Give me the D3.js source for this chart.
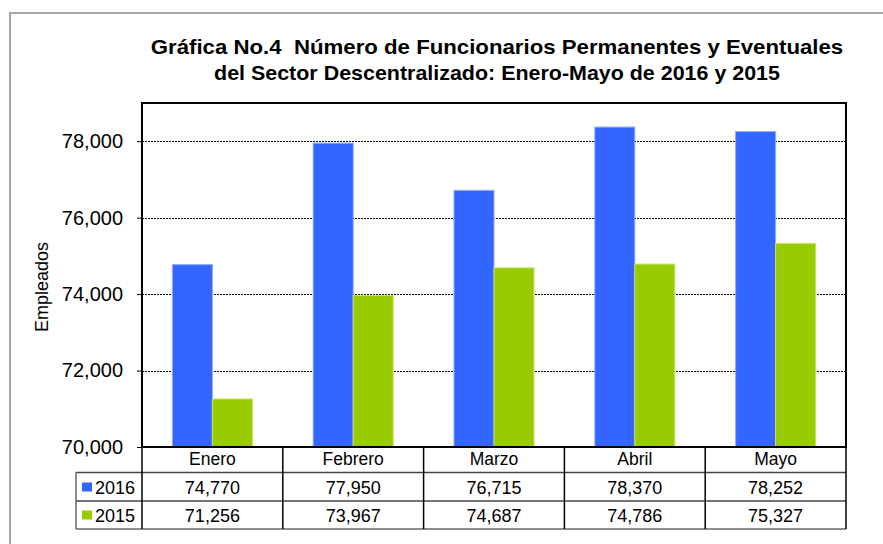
<!DOCTYPE html>
<html><head><meta charset="utf-8">
<script src="https://cdn.jsdelivr.net/npm/d3@7"></script>
<style>body{margin:0;background:#fff}svg{display:block}text{font-family:"Liberation Sans",Arial,sans-serif;fill:#000}</style>
</head><body>
<script>
const categories = ["Enero","Febrero","Marzo","Abril","Mayo"];
const seriesNames = ["2016","2015"];
const values2016 = [74770,77950,76715,78370,78252];
const values2015 = [71256,73967,74687,74786,75327];
const yTicks = [70000,72000,74000,76000,78000];
const colors = ["#3366FF","#99CC00"];
const strokes = ["#8FA8FF","#C6E266"];
const titleLines = ["Gráfica No.4  Número de Funcionarios Permanentes y Eventuales","del Sector Descentralizado: Enero-Mayo de 2016 y 2015"];

const W=883,H=544;
const svg=d3.select("body").append("svg").attr("width",W).attr("height",H);
svg.append("rect").attr("x",10).attr("y",13).attr("width",900).attr("height",600)
  .attr("fill","none").attr("stroke","#a6a6a6").attr("stroke-width",2);

const L=142,R=846,T=103,B=447;
const x=d3.scaleBand().domain(categories).range([L,R]);
const y=d3.scaleLinear().domain([70000,79000]).range([B,T]);
const fmt=d3.format(",");

// title lines (horizontally widened like the reference)
[[54,1.14],[80,1.10]].forEach(([by,sx],i)=>{
  svg.append("text").attr("text-anchor","middle").attr("font-weight","bold").attr("font-size",19.5)
    .attr("transform",`translate(497,${by}) scale(${sx},1)`).style("white-space","pre")
    .text(titleLines[i]);
});

// gridlines
svg.append("g").selectAll("line").data(yTicks.filter(d=>d>70000)).join("line")
  .attr("x1",L).attr("x2",R).attr("y1",d=>Math.round(y(d))+0.5).attr("y2",d=>Math.round(y(d))+0.5)
  .attr("stroke","#000").attr("stroke-width",1).attr("stroke-dasharray","2,1");

// y axis
const yAxis=d3.axisLeft(y).tickValues(yTicks).tickFormat(fmt).tickSize(5).tickPadding(14);
const ga=svg.append("g").attr("transform",`translate(${L},0)`).call(yAxis);
ga.select(".domain").remove();
ga.selectAll(".tick line").attr("stroke","#000");
ga.selectAll(".tick text").attr("font-size",20).attr("font-family","Liberation Sans, Arial, sans-serif").attr("fill","#000");

// y label
svg.append("text").attr("transform","translate(48,287) rotate(-90)").attr("text-anchor","middle")
  .attr("font-size",18).text("Empleados");

// bars
const series=[values2016,values2015];
const bw=40;
series.forEach((vals,si)=>{
  svg.append("g").selectAll("rect").data(vals).join("rect")
    .attr("x",(d,i)=>x(categories[i])+x.bandwidth()/2-bw+si*bw)
    .attr("y",d=>y(d)).attr("width",bw).attr("height",d=>B-y(d))
    .attr("fill",colors[si]).attr("stroke",strokes[si]).attr("stroke-width",1);
});

// plot border
svg.append("rect").attr("x",L).attr("y",T).attr("width",R-L).attr("height",B-T)
  .attr("fill","none").attr("stroke","#000").attr("stroke-width",2);

// data table
const rowY=[447,472.5,501,529];
const tLeft=76;
const tg=svg.append("g");
tg.append("line").attr("x1",tLeft).attr("x2",R).attr("y1",rowY[1]).attr("y2",rowY[1]).attr("stroke","#444").attr("stroke-width",1.3);
tg.append("line").attr("x1",tLeft).attr("x2",R).attr("y1",rowY[2]).attr("y2",rowY[2]).attr("stroke","#444").attr("stroke-width",1.3);
tg.append("line").attr("x1",tLeft).attr("x2",R).attr("y1",rowY[3]).attr("y2",rowY[3]).attr("stroke","#666").attr("stroke-width",1.5);
tg.append("line").attr("x1",tLeft).attr("x2",tLeft).attr("y1",rowY[1]).attr("y2",rowY[3]).attr("stroke","#666").attr("stroke-width",1.5);
const vx=[L].concat(categories.map(c=>x(c)+x.bandwidth()));
tg.selectAll("line.v").data(vx).join("line").attr("class","v")
  .attr("x1",d=>d).attr("x2",d=>d).attr("y1",B).attr("y2",rowY[3])
  .attr("stroke","#000").attr("stroke-width",1.5);
tg.selectAll("text.h").data(categories).join("text").attr("class","h")
  .attr("x",d=>x(d)+x.bandwidth()/2).attr("y",465).attr("text-anchor","middle").attr("font-size",17.5).text(d=>d);
series.forEach((vals,si)=>{
  const by=[494,522][si];
  tg.selectAll("text.r"+si).data(vals).join("text").attr("class","r"+si)
    .attr("x",(d,i)=>x(categories[i])+x.bandwidth()/2).attr("y",by).attr("text-anchor","middle")
    .attr("font-size",18).text(d=>fmt(d));
  tg.append("rect").attr("x",82).attr("y",by-11.5).attr("width",10).attr("height",9).attr("fill",colors[si]);
  tg.append("text").attr("x",95).attr("y",by).attr("font-size",18).text(seriesNames[si]);
});
</script>
</body></html>
